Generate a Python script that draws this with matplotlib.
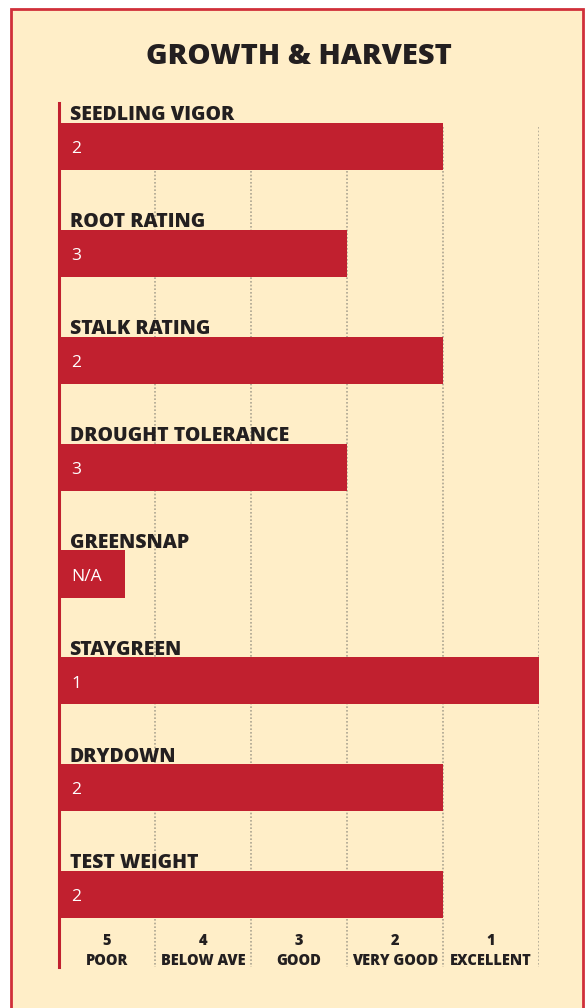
import matplotlib
matplotlib.use("Agg")
import matplotlib.pyplot as plt
from matplotlib.patches import Rectangle

plt.rcParams['font.family'] = ['Open Sans', 'DejaVu Sans']

# ---------------- data ----------------
title = "GROWTH & HARVEST"
categories = ["SEEDLING VIGOR", "ROOT RATING", "STALK RATING", "DROUGHT TOLERANCE",
              "GREENSNAP", "STAYGREEN", "DRYDOWN", "TEST WEIGHT"]
ratings = [2, 3, 2, 3, None, 1, 2, 2]          # 1 = excellent ... 5 = poor
value_labels = ["2", "3", "2", "3", "N/A", "1", "2", "2"]
na_length = 0.69                                # short stub drawn for N/A
scale_ratings = [5, 4, 3, 2, 1]
scale_names = ["POOR", "BELOW AVE", "GOOD", "VERY GOOD", "EXCELLENT"]

RED = "#C1202F"
CREAM = "#FFEEC8"
DARK = "#231F20"

W, H = 585, 1008
fig = plt.figure(figsize=(W / 100, H / 100), dpi=100, facecolor="white")

# panel background with red frame
fig.patches.append(Rectangle((11 / W, -0.01), 572 / W, (H - 9) / H + 0.01,
                             transform=fig.transFigure, facecolor=CREAM,
                             edgecolor="#D0303A", linewidth=2, zorder=-5))

fig.text(299 / W, 1 - 57 / H, title, ha="center", va="center",
         fontsize=21, fontweight="heavy", color=DARK)

ax = fig.add_axes([59 / W, 41 / H, 480 / W, 864 / H])
ax.set_facecolor("none")

# bar lengths: rating r fills (6 - r) units of the 5-unit scale
lengths = [na_length if r is None else 6 - r for r in ratings]
ypos = list(range(len(categories)))
ax.barh(ypos, lengths, height=0.44, color=RED, zorder=3)

for y, name, lab in zip(ypos, categories, value_labels):
    ax.text(0.11, y - 0.245, name, ha="left", va="baseline", fontsize=14,
            fontweight="heavy", color=DARK, zorder=4)
    ax.text(0.125, y + 0.025, lab, ha="left", va="center", fontsize=12.5,
            color="white", zorder=4)

# dotted grid lines
ax.vlines([1, 2, 3, 4, 5], -0.18, 7.677, colors="#ADA591", linestyles=(0, (1, 1.2)),
          linewidth=1.2, zorder=1)

for r, name in zip(scale_ratings, scale_names):
    ax.text(5.5 - r, 7.53, f"{r}\n{name}", ha="center", va="center",
            fontsize=10.5, fontweight="heavy", color=DARK, linespacing=1.3)

ax.set_xlim(0, 5)
ax.set_ylim(7.677, -0.407)
ax.set_xticks([])
ax.set_yticks([])
for s in ["top", "right", "bottom"]:
    ax.spines[s].set_visible(False)
ax.spines["left"].set_color(RED)
ax.spines["left"].set_linewidth(2.2)
ax.spines["left"].set_zorder(5)

fig.savefig("out.png", dpi=100, facecolor="white")
